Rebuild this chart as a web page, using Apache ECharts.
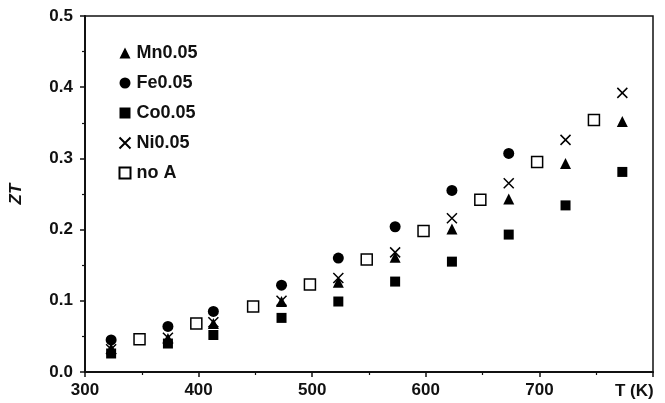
<!DOCTYPE html>
<html>
<head>
<meta charset="utf-8">
<script src="https://cdn.jsdelivr.net/npm/echarts@6/dist/echarts.min.js"></script>
<style>
  html, body { margin: 0; padding: 0; background: #fff; }
  #chart { width: 665px; height: 403px; }
</style>
</head>
<body>
<div id="chart"></div>
<script>
// Measurement temperatures (K)
const tempDoped = [323, 373, 413, 473, 523, 573, 623, 673, 723, 773];
const tempUndoped = [348, 398, 448, 498, 548, 598, 648, 698, 748];

// ZT values per composition
const ztMn = [0.033, 0.047, 0.068, 0.099, 0.126, 0.161, 0.201, 0.243, 0.293, 0.352];
const ztFe = [0.045, 0.064, 0.085, 0.122, 0.160, 0.204, 0.255, 0.307];
const ztCo = [0.026, 0.040, 0.052, 0.076, 0.099, 0.127, 0.155, 0.193, 0.234, 0.281];
const ztNi = [0.032, 0.048, 0.070, 0.100, 0.132, 0.168, 0.216, 0.265, 0.326, 0.392];
const ztNoA = [0.046, 0.068, 0.092, 0.123, 0.158, 0.198, 0.242, 0.295, 0.354];

const seriesNames = ['Mn0.05', 'Fe0.05', 'Co0.05', 'Ni0.05', 'no A'];
const xTicks = [300, 400, 500, 600, 700];

const pairs = (xs, ys) => ys.map((y, i) => [xs[i], y]);

const crossPath = 'path://M0,0L10,10M10,0L0,10';
const fontFam = '"Liberation Sans", Arial, sans-serif';

const chart = echarts.init(document.getElementById('chart'));
chart.setOption({
  animation: false,
  backgroundColor: '#fff',
  grid: {
    left: 85, right: 12, top: 16, bottom: 31,
    show: true, borderColor: '#111', borderWidth: 1.5
  },
  legend: {
    orient: 'vertical',
    left: 112, top: 39,
    itemWidth: 11, itemHeight: 11, itemGap: 12,
    data: seriesNames,
    textStyle: { fontFamily: fontFam, fontWeight: 'bold', fontSize: 18, color: '#111', padding: [0, 0, 0, 1] }
  },
  xAxis: {
    type: 'value', min: 300, max: 800, interval: 100,
    name: 'T (K)', nameLocation: 'end', nameGap: -38,
    nameTextStyle: { fontFamily: fontFam, fontWeight: 'bold', fontSize: 17, color: '#111',
      verticalAlign: 'top', align: 'left', padding: [11, 0, 0, 0] },
    axisLine: { lineStyle: { color: '#111', width: 2 } },
    axisTick: { show: true, length: 5, lineStyle: { color: '#111', width: 1.5 } },
    minorTick: { show: true, splitNumber: 2, length: 3, lineStyle: { color: '#111', width: 1.2 } },
    splitLine: { show: false },
    axisLabel: {
      margin: 10, fontFamily: fontFam, fontWeight: 'bold', fontSize: 17, color: '#111',
      formatter: v => (xTicks.includes(v) ? String(v) : '')
    }
  },
  yAxis: {
    type: 'value', min: 0, max: 0.5, interval: 0.1,
    name: 'ZT', nameLocation: 'middle', nameGap: 60, nameRotate: 90,
    nameTextStyle: { fontFamily: fontFam, fontWeight: 'bold', fontStyle: 'italic', fontSize: 17, color: '#111' },
    axisLine: { show: true, lineStyle: { color: '#111', width: 2 } },
    axisTick: { show: true, length: 5, lineStyle: { color: '#111', width: 1.5 } },
    minorTick: { show: true, splitNumber: 2, length: 3, lineStyle: { color: '#111', width: 1.2 } },
    splitLine: { show: false },
    axisLabel: {
      margin: 12, fontFamily: fontFam, fontWeight: 'bold', fontSize: 17, color: '#111',
      formatter: v => v.toFixed(1)
    }
  },
  series: [
    { name: 'Mn0.05', type: 'scatter', symbol: 'triangle', symbolSize: 11,
      itemStyle: { color: '#000', opacity: 1 }, data: pairs(tempDoped, ztMn) },
    { name: 'Fe0.05', type: 'scatter', symbol: 'circle', symbolSize: 11,
      itemStyle: { color: '#000', opacity: 1 }, data: pairs(tempDoped, ztFe) },
    { name: 'Co0.05', type: 'scatter', symbol: 'rect', symbolSize: 10,
      itemStyle: { color: '#000', opacity: 1 }, data: pairs(tempDoped, ztCo) },
    { name: 'Ni0.05', type: 'scatter', symbol: crossPath, symbolSize: 10,
      itemStyle: { color: 'none', borderColor: '#000', borderWidth: 1.5, opacity: 1 }, data: pairs(tempDoped, ztNi) },
    { name: 'no A', type: 'scatter', symbol: 'rect', symbolSize: 11,
      itemStyle: { color: '#fff', borderColor: '#000', borderWidth: 1.5, opacity: 1 }, data: pairs(tempUndoped, ztNoA) }
  ]
});
</script>
</body>
</html>
